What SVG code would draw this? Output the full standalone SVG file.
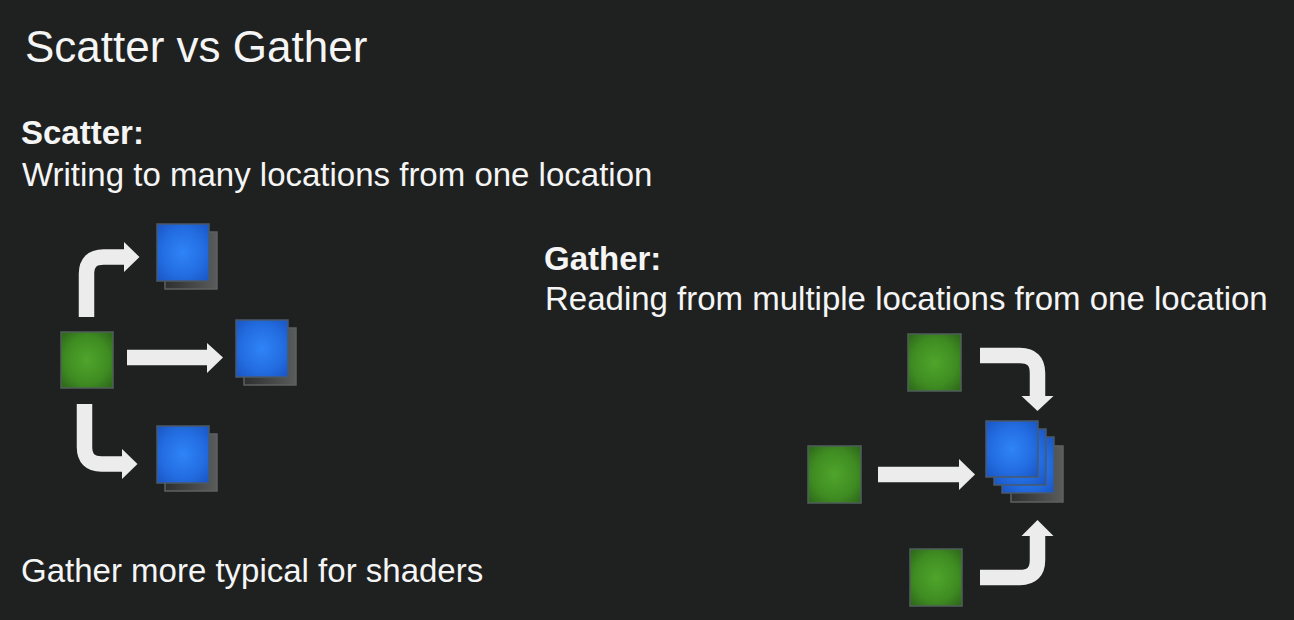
<svg xmlns="http://www.w3.org/2000/svg" width="1294" height="620" viewBox="0 0 1294 620">
  <defs>
    <radialGradient id="gGreen" cx="0.5" cy="0.5" r="0.7">
      <stop offset="0" stop-color="#4fa52b"/>
      <stop offset="0.6" stop-color="#3f8c22"/>
      <stop offset="1" stop-color="#2c641a"/>
    </radialGradient>
    <radialGradient id="gBlue" cx="0.5" cy="0.5" r="0.7">
      <stop offset="0" stop-color="#2f84f7"/>
      <stop offset="0.6" stop-color="#226ce0"/>
      <stop offset="1" stop-color="#1a54c2"/>
    </radialGradient>
    <linearGradient id="gShadow" x1="0" y1="0" x2="1" y2="0">
      <stop offset="0" stop-color="#2e3030"/>
      <stop offset="1" stop-color="#5a5c5c"/>
    </linearGradient>
  </defs>
  <style>
    .t { font-family: "Liberation Sans", Arial, sans-serif; fill: #f5f5f5; }
    .title { font-size: 44px; }
    .b { font-size: 33px; }
    .bold { font-weight: bold; }
    .green { fill: url(#gGreen); stroke: #4f5f5a; stroke-width: 1.5; }
    .blue { fill: url(#gBlue); stroke: #4a5a6a; stroke-width: 1.5; }
    .shadow { fill: url(#gShadow); stroke: #5c6060; stroke-width: 1.5; }
    .shaft { fill: none; stroke: #ececec; stroke-width: 15.5; stroke-linecap: butt; stroke-linejoin: round; }
    .head { fill: #ececec; }
  </style>
  <rect width="1294" height="620" fill="#1f2120"/>

  <text class="t title" x="25" y="62">Scatter vs Gather</text>
  <text class="t b bold" x="21" y="144">Scatter:</text>
  <text class="t b" x="22" y="186">Writing to many locations from one location</text>
  <text class="t b bold" x="544" y="270">Gather:</text>
  <text class="t b" x="545" y="310">Reading from multiple locations from one location</text>
  <text class="t b" x="21" y="582">Gather more typical for shaders</text>

  <g id="scatter-source">
    <rect class="green" x="61" y="332" width="52" height="56"/>
  </g>
  <g id="scatter-target-top">
    <rect class="shadow" x="165" y="232" width="52" height="57"/>
    <rect class="blue" x="157" y="224" width="52" height="57"/>
  </g>
  <g id="scatter-target-middle">
    <rect class="shadow" x="244" y="328" width="52" height="57"/>
    <rect class="blue" x="236" y="320" width="52" height="57"/>
  </g>
  <g id="scatter-target-bottom">
    <rect class="shadow" x="165" y="434" width="52" height="57"/>
    <rect class="blue" x="157" y="426" width="52" height="57"/>
  </g>

  <g id="gather-source-top">
    <rect class="green" x="908" y="334" width="53" height="57"/>
  </g>
  <g id="gather-source-middle">
    <rect class="green" x="808" y="446" width="53" height="57"/>
  </g>
  <g id="gather-source-bottom">
    <rect class="green" x="910" y="549" width="52" height="57"/>
  </g>
  <g id="gather-target">
    <rect class="shadow" x="1011" y="446" width="52" height="56"/>
    <rect class="blue" x="1002" y="437" width="52" height="56"/>
    <rect class="blue" x="994" y="429" width="52" height="56"/>
    <rect class="blue" x="986" y="421" width="52" height="56"/>
  </g>

  <g id="connectors">
    <path class="shaft" d="M86.5,317 V274 Q86.5,257 103.5,257 H125"/>
    <polygon class="head" points="124,242 139.5,257 124,272"/>

    <path class="shaft" d="M127,357.5 H208"/>
    <polygon class="head" points="207,343 223,357.5 207,373"/>

    <path class="shaft" d="M84.5,404 V447 Q84.5,464 101.5,464 H123"/>
    <polygon class="head" points="122,449 137.5,464 122,479"/>

    <path class="shaft" d="M980,355.5 H1020 Q1037.5,355.5 1037.5,373 V397"/>
    <polygon class="head" points="1021.5,396 1037.5,411 1053.5,396"/>

    <path class="shaft" d="M878,474.5 H960"/>
    <polygon class="head" points="959,459 975,474.5 959,490"/>

    <path class="shaft" d="M980,577.5 H1020 Q1037.5,577.5 1037.5,560 V535"/>
    <polygon class="head" points="1021.5,536 1037.5,520 1053.5,536"/>
  </g>
</svg>
